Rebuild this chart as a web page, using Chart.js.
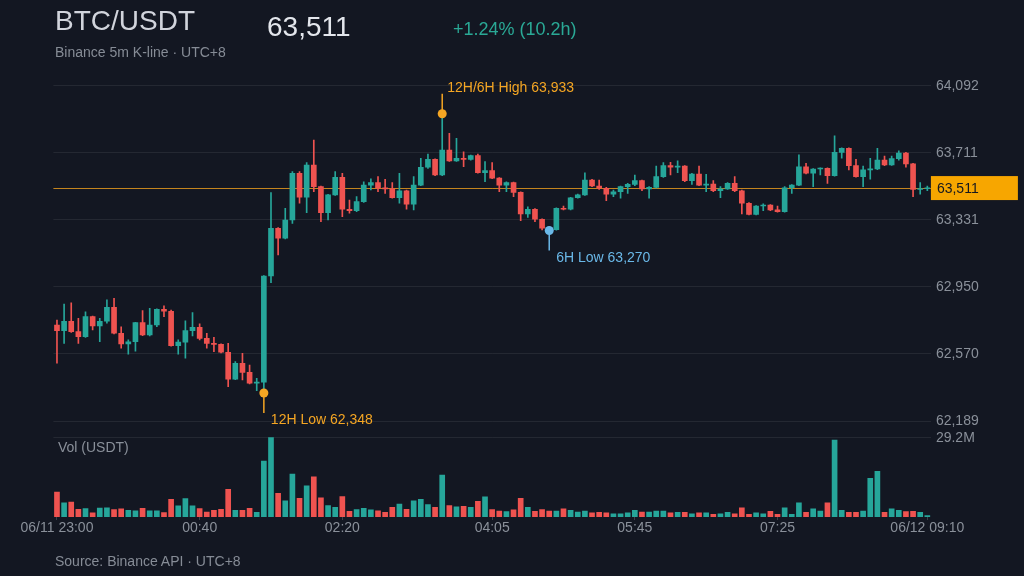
<!DOCTYPE html>
<html><head><meta charset="utf-8">
<script src="https://cdn.jsdelivr.net/npm/chart.js@4.4.1/dist/chart.umd.min.js"></script>
<style>
html,body{margin:0;padding:0;background:#131722;width:1024px;height:576px;overflow:hidden;font-family:"Liberation Sans",Arial,sans-serif;}
#wrap{position:relative;width:1024px;height:576px;}
canvas{position:absolute;left:0;top:0;}
.t{position:absolute;white-space:nowrap;line-height:1;}
</style></head><body>
<div id="wrap">
<canvas id="c" width="1024" height="576"></canvas>
<div class="t" style="left:55px;top:7px;font-size:28px;color:#d1d4dc;">BTC/USDT</div>
<div class="t" id="last" style="left:267px;top:13px;font-size:28px;color:#e3e6ec;"></div>
<div class="t" id="chg" style="left:453px;top:20px;font-size:18px;color:#2aa996;"></div>
<div class="t" style="left:55px;top:45px;font-size:14px;color:#868c96;">Binance 5m K-line · UTC+8</div>
<div class="t" style="left:58px;top:440px;font-size:14px;color:#8a909a;">Vol (USDT)</div>
<div class="t" style="left:55px;top:554px;font-size:14px;color:#868c96;">Source: Binance API · UTC+8</div>
</div>
<script>
const openP = [62734,62702,62755,62696,62667,62781,62728,62755,62834,62687,
62626,62639,62747,62677,62734,62823,62812,62616,62637,62702,
62721,62658,62630,62624,62579,62427,62517,62465,62403,62410,
63012,63283,63226,63330,63595,63459,63642,63519,63371,63472,
63572,63391,63383,63434,63528,63542,63510,63506,63456,63496,
63419,63528,63629,63674,63585,63727,63665,63680,63674,63695,
63598,63610,63567,63528,63542,63487,63364,63391,63334,63283,
63275,63396,63391,63456,63472,63557,63523,63510,63476,63490,
63519,63532,63553,63506,63515,63576,63638,63629,63636,63553,
63591,63528,63534,63496,63506,63538,63496,63425,63362,63409,
63415,63387,63377,63513,63528,63632,63595,63619,63623,63581,
63714,63737,63638,63576,63614,63619,63670,63642,63678,63710,
63648,63503,63507];
const highP = [62762,62853,62860,62772,62809,62785,62772,62876,62885,62724,
62649,62749,62815,62829,62826,62842,62819,62649,62758,62804,
62740,62687,62664,62627,62630,62526,62573,62507,62431,63015,
63485,63287,63396,63604,63604,63655,63784,63522,63475,63604,
63595,63443,63462,63547,63563,63576,63561,63542,63595,63499,
63576,63680,63704,63677,63933,63822,63793,63717,63698,63704,
63661,63655,63570,63547,63545,63490,63405,63394,63337,63292,
63399,63409,63459,63477,63598,63560,63557,63515,63500,63523,
63538,63585,63557,63519,63636,63655,63657,63666,63639,63595,
63636,63589,63553,63519,63542,63576,63499,63428,63412,63421,
63418,63409,63519,63531,63699,63652,63622,63626,63626,63807,
63740,63740,63674,63636,63680,63737,63693,63693,63723,63714,
63651,63542,63523];
const lowP = [62517,62630,62692,62630,62663,62706,62639,62744,62683,62602,
62569,62586,62674,62672,62724,62781,62613,62569,62545,62672,
62649,62602,62582,62576,62384,62424,62422,62400,62361,62348,
62974,63131,63222,63311,63425,63371,63490,63320,63330,63469,
63349,63368,63377,63430,63500,63490,63481,63453,63425,63391,
63387,63525,63623,63582,63582,63662,63662,63632,63670,63595,
63547,63565,63490,63490,63462,63326,63345,63320,63273,63270,
63272,63387,63387,63453,63469,63519,63504,63439,63462,63453,
63481,63524,63496,63453,63510,63572,63585,63598,63547,63532,
63525,63490,63490,63456,63503,63490,63364,63358,63358,63383,
63383,63374,63374,63481,63525,63591,63519,63585,63538,63578,
63680,63614,63573,63519,63561,63616,63638,63639,63670,63629,
63462,63477,63496];
const closeP = [62702,62755,62696,62667,62781,62728,62755,62834,62687,62626,
62639,62747,62677,62734,62823,62812,62616,62637,62702,62721,
62658,62630,62624,62579,62427,62517,62465,62403,62410,63012,
63283,63226,63330,63595,63459,63642,63519,63371,63472,63572,
63391,63383,63434,63528,63542,63510,63506,63456,63496,63419,
63528,63629,63674,63585,63727,63665,63680,63674,63695,63598,
63610,63567,63528,63542,63487,63364,63391,63334,63283,63275,
63396,63391,63456,63472,63557,63523,63510,63476,63490,63519,
63532,63553,63506,63515,63576,63638,63629,63636,63553,63591,
63528,63534,63496,63506,63538,63496,63425,63362,63409,63415,
63387,63377,63513,63528,63632,63595,63619,63623,63581,63714,
63737,63638,63576,63614,63619,63670,63642,63678,63710,63648,
63503,63507,63511];
const volM = [9.2,5.2,5.5,2.8,3.1,1.5,3.3,3.4,2.7,3.0,
2.5,2.3,3.2,2.3,2.3,1.6,6.5,4.1,6.8,4.1,
3.1,1.8,2.5,2.8,10.2,2.5,2.5,3.2,1.7,20.6,
29.2,8.7,6.0,15.8,6.9,11.5,14.8,7.1,4.2,3.6,
7.5,2.1,2.7,3.2,2.6,2.3,1.7,3.6,4.8,2.8,
6.0,6.5,4.6,3.6,15.4,4.2,3.7,3.9,3.6,5.8,
7.4,2.7,2.2,2.0,2.6,6.9,3.6,2.1,2.7,2.2,
2.2,3.0,2.5,1.8,2.2,1.5,1.7,1.5,1.2,1.2,
1.5,2.5,1.8,1.8,2.2,2.2,1.5,1.7,1.7,1.2,
1.5,1.5,1.0,1.2,1.7,1.2,3.4,1.0,1.5,1.2,
2.1,1.0,3.4,1.0,5.2,1.7,3.0,2.2,5.2,28.3,
2.5,1.7,1.7,2.2,14.2,16.8,1.7,3.0,2.5,2.0,
2.1,1.7,0.5];
const xTickIndex = [0,20,40,61,81,101,122];
const xTickText = ['06/11 23:00','00:40','02:20','04:05','05:45','07:25','06/12 09:10'];
const priceTicks = [62189,62570,62950,63331,63711,64092];

const n = closeP.length;
const times = [];
for (let i = 0; i < n; i++) {
  const m = 23*60 + i*5;
  times.push(String(Math.floor(m/60)%24).padStart(2,'0') + ':' + String(m%60).padStart(2,'0'));
}
const UP = '#26a69a', DOWN = '#ef5350';
const col = closeP.map((c,i) => c >= openP[i] ? UP : DOWN);
const maxVol = Math.max(...volM);
const last = closeP[n-1];
const fmt = v => Math.round(v).toLocaleString('en-US');

document.getElementById('last').textContent = fmt(last);
document.getElementById('chg').textContent = '+' + ((last/openP[0]-1)*100).toFixed(2) + '% (' + ((n-1)*5/60).toFixed(1) + 'h)';

const w6 = n - 72;
let iLo = 0, iHi = 0, iLo6 = w6;
for (let i = 0; i < n; i++) { if (lowP[i] < lowP[iLo]) iLo = i; if (highP[i] > highP[iHi]) iHi = i; }
for (let i = w6; i < n; i++) { if (lowP[i] < lowP[iLo6]) iLo6 = i; }
const ORANGE = '#f5a623', BLUE = '#6ab8e8';
const markers = [
  {idx:iHi, value:highP[iHi], text:(iHi>=w6?'12H/6H High ':'12H High ') + fmt(highP[iHi]), color:ORANGE, dir:-1},
  {idx:iLo, value:lowP[iLo], text:'12H Low ' + fmt(lowP[iLo]), color:ORANGE, dir:1},
  {idx:iLo6, value:lowP[iLo6], text:'6H Low ' + fmt(lowP[iLo6]), color:BLUE, dir:1}
];

const FAM = '"Liberation Sans", Arial, sans-serif';
Chart.defaults.font.family = FAM;

const annot = {
  id: 'annot',
  beforeDatasetsDraw(chart) {
    const {ctx, chartArea:a, scales:{x, y}} = chart;
    ctx.save();
    const py = Math.round(y.getPixelForValue(last)) + 0.5;
    ctx.strokeStyle = 'rgba(240,160,30,0.8)';
    ctx.lineWidth = 1;
    ctx.beginPath(); ctx.moveTo(a.left, py); ctx.lineTo(a.right, py); ctx.stroke();
    markers.forEach(m => {
      const px = x.getPixelForValue(m.idx), my = y.getPixelForValue(m.value);
      ctx.strokeStyle = m.color; ctx.lineWidth = 1.5;
      ctx.beginPath(); ctx.moveTo(px, my); ctx.lineTo(px, my + m.dir*20); ctx.stroke();
    });
    ctx.restore();
  },
  afterDatasetsDraw(chart) {
    const {ctx, scales:{x, y}} = chart;
    ctx.save();
    ctx.font = '14px ' + FAM;
    ctx.textBaseline = 'middle';
    ctx.textAlign = 'left';
    markers.forEach(m => {
      const px = x.getPixelForValue(m.idx), my = y.getPixelForValue(m.value);
      ctx.fillStyle = m.color;
      if (m.dir < 0) ctx.fillText(m.text, px + 5, my - 26);
      else ctx.fillText(m.text, px + 7, my + 27.5);
    });
    ctx.restore();
  },
  afterDraw(chart) {
    const {ctx, chartArea:a, scales:{y}} = chart;
    const py = y.getPixelForValue(last);
    ctx.save();
    ctx.fillStyle = '#f7a600';
    ctx.fillRect(a.right, py - 12, 87, 24);
    ctx.fillStyle = '#15181f';
    ctx.font = '14px ' + FAM;
    ctx.textBaseline = 'middle';
    ctx.textAlign = 'left';
    ctx.fillText(fmt(last), a.right + 6, py + 1);
    ctx.restore();
  }
};

const gridCol = 'rgba(255,255,255,0.075)';
const tickCol = '#8a909a';
new Chart(document.getElementById('c'), {
  type: 'bar',
  data: {
    labels: times,
    datasets: [
      {type:'line', data: markers.map(m => ({x: times[m.idx], y: m.value})), showLine:false,
       pointRadius:4.5, pointHoverRadius:4.5, pointBorderWidth:0,
       pointBackgroundColor: markers.map(m => m.color), yAxisID:'y', order:0},
      {data: openP.map((o,i) => [o, closeP[i]]), backgroundColor: col, barThickness:5,
       minBarLength:1, grouped:false, yAxisID:'y', order:1},
      {data: lowP.map((l,i) => [l, highP[i]]), backgroundColor: col, barThickness:1,
       grouped:false, yAxisID:'y', order:2},
      {data: volM, backgroundColor: col, barThickness:5, grouped:false, yAxisID:'yv', order:3}
    ]
  },
  options: {
    responsive:false, animation:false, devicePixelRatio:1,
    layout: {padding:{left:53.4, right:0, top:85.7, bottom:29}},
    plugins: {legend:{display:false}, tooltip:{enabled:false}, title:{display:false}},
    scales: {
      x: {
        type:'category', offset:true,
        grid:{display:true, drawOnChartArea:false, drawTicks:true, tickLength:3, color:'#3b404b', offset:false},
        border:{display:false},
        ticks:{color:tickCol, font:{size:14}, padding:0, maxRotation:0, autoSkip:false,
          callback:(v) => { const k = xTickIndex.indexOf(v); return k >= 0 ? xTickText[k] : ''; }},
        afterBuildTicks: s => { s.ticks = xTickIndex.map(v => ({value:v})); },
        afterFit: s => { s.height = 30; }
      },
      y: {
        type:'linear', position:'right', stack:'pane', stackWeight:335.3,
        min:priceTicks[0], max:priceTicks[priceTicks.length-1],
        afterBuildTicks: s => { s.ticks = priceTicks.map(v => ({value:v})); },
        grid:{color:gridCol, drawTicks:false}, border:{display:false},
        ticks:{color:tickCol, font:{size:14}, padding:5, callback: v => fmt(v)},
        afterFit: s => { s.width = 93.1; }
      },
      yv: {
        type:'linear', position:'right', stack:'pane', stackWeight:96,
        min:0, max: maxVol * 96 / 79.3,
        afterBuildTicks: s => { s.ticks = [{value:maxVol}]; },
        grid:{color:gridCol, drawTicks:false}, border:{display:false},
        ticks:{color:tickCol, font:{size:14}, padding:5, callback: v => v.toFixed(1) + 'M'},
        afterFit: s => { s.width = 93.1; }
      }
    }
  },
  plugins:[annot]
});
</script>
</body></html>
